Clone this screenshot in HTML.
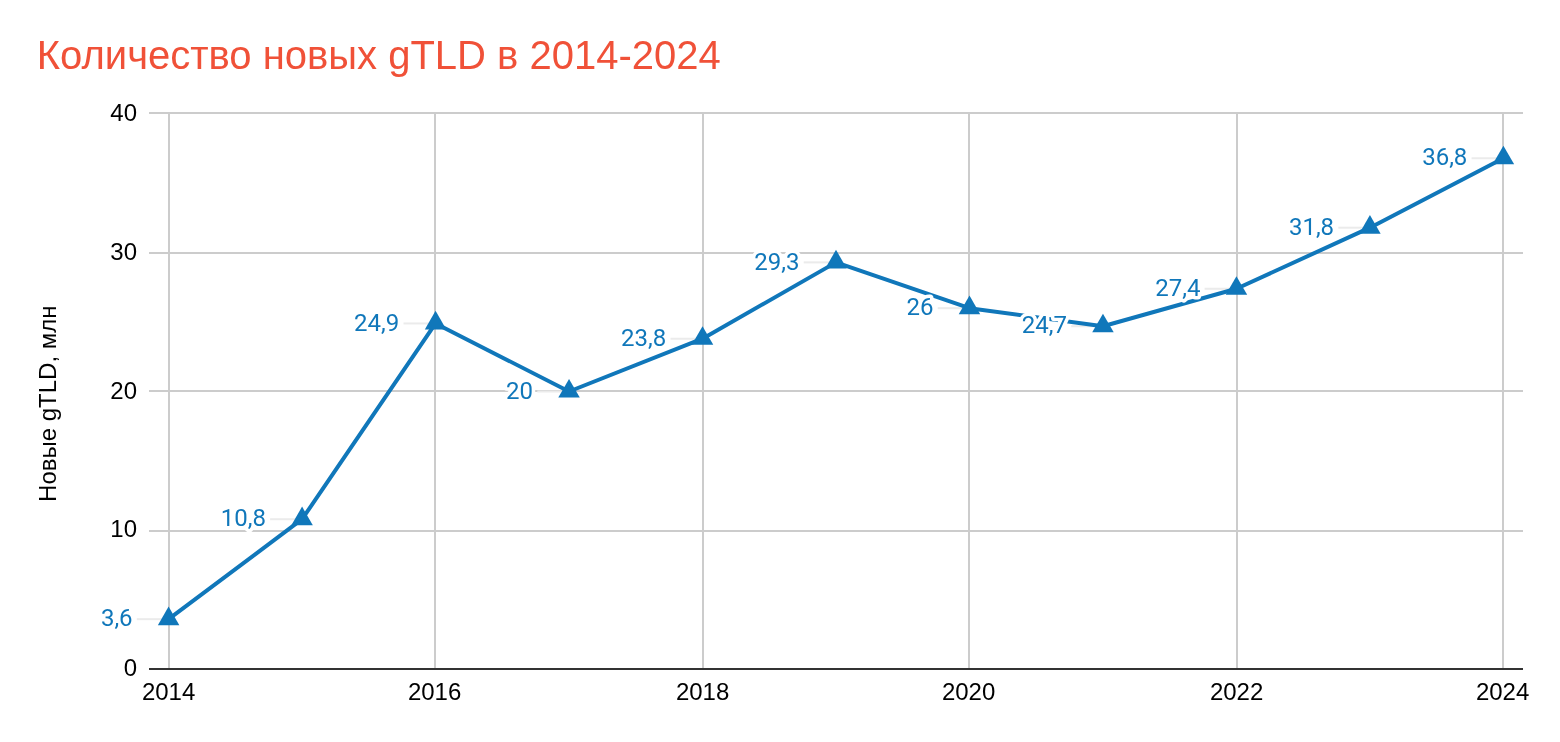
<!DOCTYPE html>
<html><head><meta charset="utf-8"><title>Количество новых gTLD в 2014-2024</title>
<style>html,body{margin:0;padding:0;background:#fff;width:1560px;height:742px;overflow:hidden}svg{display:block;will-change:transform}</style>
</head><body>
<svg width="1560" height="742" viewBox="0 0 1560 742">
<rect width="1560" height="742" fill="#fff"/>
<text x="36.8" y="69" font-family="Liberation Sans, Arial, sans-serif" font-size="40" fill="#f05138">Количество новых gTLD в 2014-2024</text>
<rect x="149" y="112" width="1374" height="2" fill="#cccccc"/>
<rect x="149" y="252" width="1374" height="2" fill="#cccccc"/>
<rect x="149" y="390" width="1374" height="2" fill="#cccccc"/>
<rect x="149" y="530" width="1374" height="2" fill="#cccccc"/>
<rect x="168" y="113" width="2" height="556" fill="#cccccc"/>
<rect x="434" y="113" width="2" height="556" fill="#cccccc"/>
<rect x="702" y="113" width="2" height="556" fill="#cccccc"/>
<rect x="968" y="113" width="2" height="556" fill="#cccccc"/>
<rect x="1236" y="113" width="2" height="556" fill="#cccccc"/>
<rect x="1502" y="113" width="2" height="556" fill="#cccccc"/>
<rect x="149" y="668" width="1374" height="2" fill="#333"/>
<text x="137" y="121" text-anchor="end" font-family="Liberation Sans, Arial, sans-serif" font-size="24" fill="#000">40</text>
<text x="137" y="260" text-anchor="end" font-family="Liberation Sans, Arial, sans-serif" font-size="24" fill="#000">30</text>
<text x="137" y="399" text-anchor="end" font-family="Liberation Sans, Arial, sans-serif" font-size="24" fill="#000">20</text>
<text x="137" y="537" text-anchor="end" font-family="Liberation Sans, Arial, sans-serif" font-size="24" fill="#000">10</text>
<text x="137" y="676" text-anchor="end" font-family="Liberation Sans, Arial, sans-serif" font-size="24" fill="#000">0</text>
<text x="168.6" y="700" text-anchor="middle" font-family="Liberation Sans, Arial, sans-serif" font-size="24" fill="#000">2014</text>
<text x="434.6" y="700" text-anchor="middle" font-family="Liberation Sans, Arial, sans-serif" font-size="24" fill="#000">2016</text>
<text x="702.6" y="700" text-anchor="middle" font-family="Liberation Sans, Arial, sans-serif" font-size="24" fill="#000">2018</text>
<text x="968.6" y="700" text-anchor="middle" font-family="Liberation Sans, Arial, sans-serif" font-size="24" fill="#000">2020</text>
<text x="1236.6" y="700" text-anchor="middle" font-family="Liberation Sans, Arial, sans-serif" font-size="24" fill="#000">2022</text>
<text x="1502.6" y="700" text-anchor="middle" font-family="Liberation Sans, Arial, sans-serif" font-size="24" fill="#000">2024</text>
<text transform="translate(56,403.7) rotate(-90)" text-anchor="middle" font-family="Liberation Sans, Arial, sans-serif" font-size="24" fill="#000">Новые gTLD, млн</text>
<rect x="136.80" y="618.17" width="31.80" height="2" fill="#ebebeb"/>
<rect x="270.10" y="518.21" width="31.98" height="2" fill="#ebebeb"/>
<rect x="403.50" y="322.46" width="32.06" height="2" fill="#ebebeb"/>
<rect x="537.30" y="390.49" width="31.74" height="2" fill="#ebebeb"/>
<rect x="670.50" y="337.73" width="32.02" height="2" fill="#ebebeb"/>
<rect x="803.70" y="261.38" width="32.30" height="2" fill="#ebebeb"/>
<rect x="937.75" y="307.19" width="31.73" height="2" fill="#ebebeb"/>
<rect x="1071.20" y="325.24" width="31.76" height="2" fill="#ebebeb"/>
<rect x="1204.60" y="287.76" width="31.84" height="2" fill="#ebebeb"/>
<rect x="1338.30" y="226.67" width="31.62" height="2" fill="#ebebeb"/>
<rect x="1471.55" y="157.26" width="31.85" height="2" fill="#ebebeb"/>
<polyline points="168.60,619.17 302.08,519.21 435.56,323.46 569.04,391.49 702.52,338.73 836.00,262.38 969.48,308.19 1102.96,326.24 1236.44,288.76 1369.92,227.67 1503.40,158.26" fill="none" stroke="#1077ba" stroke-width="4" stroke-linejoin="round"/>
<polygon points="168.60,606.57 179.34,625.17 157.86,625.17" fill="#1077ba"/>
<polygon points="302.08,506.61 312.82,525.21 291.34,525.21" fill="#1077ba"/>
<polygon points="435.56,310.86 446.30,329.46 424.82,329.46" fill="#1077ba"/>
<polygon points="569.04,378.89 579.78,397.49 558.30,397.49" fill="#1077ba"/>
<polygon points="702.52,326.13 713.26,344.73 691.78,344.73" fill="#1077ba"/>
<polygon points="836.00,249.78 846.74,268.38 825.26,268.38" fill="#1077ba"/>
<polygon points="969.48,295.59 980.22,314.19 958.74,314.19" fill="#1077ba"/>
<polygon points="1102.96,313.64 1113.70,332.24 1092.22,332.24" fill="#1077ba"/>
<polygon points="1236.44,276.16 1247.18,294.76 1225.70,294.76" fill="#1077ba"/>
<polygon points="1369.92,215.07 1380.66,233.67 1359.18,233.67" fill="#1077ba"/>
<polygon points="1503.40,145.66 1514.14,164.26 1492.66,164.26" fill="#1077ba"/>
<text x="132.60" y="626" text-anchor="end" font-family="Roboto, Liberation Sans, sans-serif" font-size="24" fill="#1077ba" stroke="#fff" stroke-width="7" stroke-linejoin="round" paint-order="stroke">3,6</text>
<text x="265.90" y="526" text-anchor="end" font-family="Roboto, Liberation Sans, sans-serif" font-size="24" fill="#1077ba" stroke="#fff" stroke-width="7" stroke-linejoin="round" paint-order="stroke">10,8</text>
<text x="399.30" y="331" text-anchor="end" font-family="Roboto, Liberation Sans, sans-serif" font-size="24" fill="#1077ba" stroke="#fff" stroke-width="7" stroke-linejoin="round" paint-order="stroke">24,9</text>
<text x="533.10" y="399" text-anchor="end" font-family="Roboto, Liberation Sans, sans-serif" font-size="24" fill="#1077ba" stroke="#fff" stroke-width="7" stroke-linejoin="round" paint-order="stroke">20</text>
<text x="666.30" y="346" text-anchor="end" font-family="Roboto, Liberation Sans, sans-serif" font-size="24" fill="#1077ba" stroke="#fff" stroke-width="7" stroke-linejoin="round" paint-order="stroke">23,8</text>
<text x="799.50" y="270" text-anchor="end" font-family="Roboto, Liberation Sans, sans-serif" font-size="24" fill="#1077ba" stroke="#fff" stroke-width="7" stroke-linejoin="round" paint-order="stroke">29,3</text>
<text x="933.55" y="315" text-anchor="end" font-family="Roboto, Liberation Sans, sans-serif" font-size="24" fill="#1077ba" stroke="#fff" stroke-width="7" stroke-linejoin="round" paint-order="stroke">26</text>
<text x="1067.00" y="333" text-anchor="end" font-family="Roboto, Liberation Sans, sans-serif" font-size="24" fill="#1077ba" stroke="#fff" stroke-width="7" stroke-linejoin="round" paint-order="stroke">24,7</text>
<text x="1200.40" y="296" text-anchor="end" font-family="Roboto, Liberation Sans, sans-serif" font-size="24" fill="#1077ba" stroke="#fff" stroke-width="7" stroke-linejoin="round" paint-order="stroke">27,4</text>
<text x="1334.10" y="235" text-anchor="end" font-family="Roboto, Liberation Sans, sans-serif" font-size="24" fill="#1077ba" stroke="#fff" stroke-width="7" stroke-linejoin="round" paint-order="stroke">31,8</text>
<text x="1467.35" y="165" text-anchor="end" font-family="Roboto, Liberation Sans, sans-serif" font-size="24" fill="#1077ba" stroke="#fff" stroke-width="7" stroke-linejoin="round" paint-order="stroke">36,8</text>
</svg>
</body></html>
